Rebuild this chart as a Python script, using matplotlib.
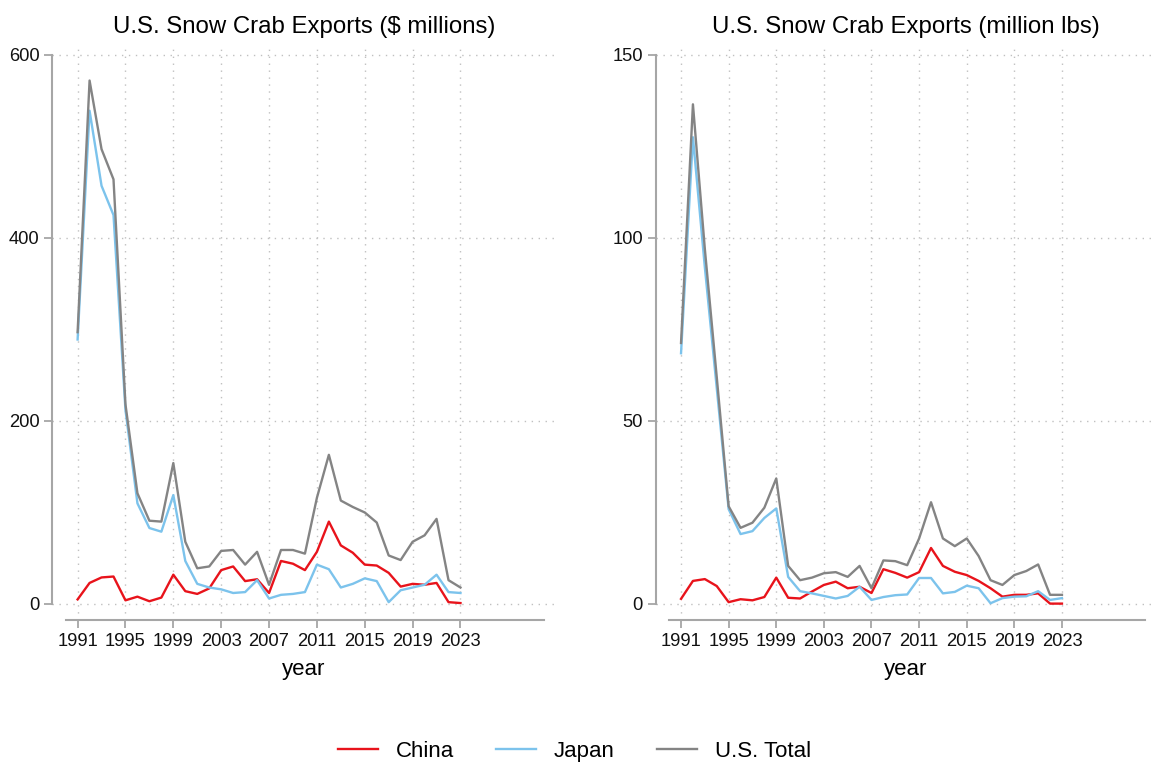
#imports
import matplotlib
matplotlib.use("Agg")
import matplotlib.pyplot as plt

plt.rcParams['font.family'] = ['Liberation Sans', 'DejaVu Sans']

#data
years = list(range(1991, 2024))

china_usd = [5, 23, 29, 30, 4, 8, 3, 7, 32, 14, 11, 17, 37, 41, 25, 27, 12,
             47, 44, 37, 57, 90, 64, 56, 43, 42, 34, 19, 22, 21, 23, 2, 1]
japan_usd = [289, 539, 457, 425, 212, 110, 83, 79, 119, 47, 22, 18, 16, 12, 13, 26, 6,
             10, 11, 13, 43, 38, 18, 22, 28, 25, 2, 15, 18, 21, 32, 13, 12]
total_usd = [297, 572, 497, 464, 218, 121, 91, 90, 154, 68, 39, 41, 58, 59, 43, 57, 21,
             59, 59, 55, 116, 163, 113, 106, 100, 89, 53, 48, 68, 75, 93, 26, 18]

china_lbs = [1.4, 6.3, 6.8, 4.9, 0.5, 1.3, 1.0, 1.9, 7.2, 1.7, 1.5, 3.4, 5.2, 6.1, 4.3, 4.7, 3.0,
             9.5, 8.5, 7.2, 8.7, 15.3, 10.4, 8.8, 7.9, 6.3, 4.3, 2.0, 2.5, 2.5, 2.9, 0.1, 0.1]
japan_lbs = [68.5, 127.5, 92, 59, 25.9, 19.1, 19.9, 23.5, 26.1, 7.4, 3.5, 2.9, 2.2, 1.5, 2.2, 4.7, 1.1,
             1.9, 2.4, 2.6, 7.1, 7.1, 2.9, 3.3, 5.0, 4.3, 0.2, 1.6, 2.0, 2.1, 3.5, 1.1, 1.6]
total_lbs = [71.3, 136.5, 97, 62, 26.7, 20.8, 22.2, 26.3, 34.3, 10.4, 6.5, 7.2, 8.4, 8.7, 7.4, 10.4, 4.3,
             11.9, 11.7, 10.6, 17.9, 27.8, 17.9, 15.8, 17.9, 13.1, 6.5, 5.2, 7.9, 9.0, 10.8, 2.5, 2.5]

series_names = ["China", "Japan", "U.S. Total"]
series_colors = ["#e8131b", "#7cc3ec", "#848484"]
x_ticks = list(range(1991, 2024, 4))

panels = [
    ("U.S. Snow Crab Exports ($ millions)", [china_usd, japan_usd, total_usd], [0, 200, 400, 600]),
    ("U.S. Snow Crab Exports (million lbs)", [china_lbs, japan_lbs, total_lbs], [0, 50, 100, 150]),
]

#figure
fig = plt.figure(figsize=(11.56, 7.63), dpi=100)
axes_pos = [[0.0454, 0.1874, 0.4347, 0.7536],
            [0.5675, 0.1874, 0.4325, 0.7536]]

spine_col = "#a6a6a6"
grid_col = "#c0c0c0"

for pos, (title, data, y_ticks) in zip(axes_pos, panels):
    ax = fig.add_axes(pos)
    ymax = y_ticks[-1]
    # y range leaves room below 0 for the detached x axis
    ax.set_ylim(-ymax * 0.0292, ymax * 1.018)
    ax.set_xlim(1988.9, 2030.9)

    for vals, name, col in zip(data, series_names, series_colors):
        ax.plot(years, vals, color=col, lw=1.7, label=name)

    ax.set_xticks(x_ticks)
    ax.set_yticks(y_ticks)
    ax.grid(True, color=grid_col, linestyle=(0, (1, 4)), linewidth=1.0)
    ax.set_axisbelow(True)

    for s in ["top", "right"]:
        ax.spines[s].set_visible(False)
    ax.spines["left"].set_bounds(0, ymax)
    ax.spines["bottom"].set_bounds(1990, 2030)
    for s in ["left", "bottom"]:
        ax.spines[s].set_color(spine_col)
        ax.spines[s].set_linewidth(1.5)

    ax.tick_params(axis="both", color=spine_col, width=1.3, length=6,
                   labelsize=13.2, labelcolor="#111111")
    ax.tick_params(axis="x", pad=3)
    ax.set_xlabel("year", fontsize=16, labelpad=7)
    ax.set_title(title, fontsize=17.3, pad=9)

#legend
handles, labels = ax.get_legend_handles_labels()
fig.legend(handles, labels, loc="lower center", bbox_to_anchor=(0.497, -0.025), ncol=3,
           frameon=False, fontsize=16, handlelength=1.8, columnspacing=1.9, handletextpad=0.8)

fig.savefig("out.png", dpi=100)
